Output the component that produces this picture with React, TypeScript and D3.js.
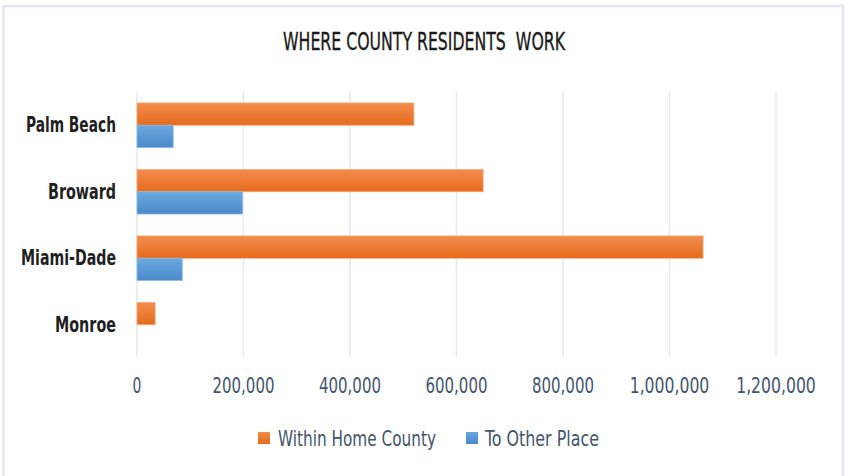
import React from "react";
import * as d3 from "d3";

const categories = ["Palm Beach", "Broward", "Miami-Dade", "Monroe"];
const seriesNames = ["Within Home County", "To Other Place"];
const withinHome = [520000, 650000, 1063000, 34000];
const toOther = [68000, 198000, 85000, 0];
const tickValues = [0, 200000, 400000, 600000, 800000, 1000000, 1200000];
const title = "WHERE COUNTY RESIDENTS  WORK";

const W = 845;
const H = 476;
const FONT = "'DejaVu Sans Condensed', 'Liberation Sans Narrow', 'Open Sans', sans-serif";

export default function App() {
  const x = d3.scaleLinear().domain([0, 1200000]).range([137, 776]);
  const y = d3
    .scaleBand<string>()
    .domain(categories)
    .range([92, 358])
    .paddingInner(0.33)
    .paddingOuter(0.165);
  const inner = d3.scaleBand<string>().domain(seriesNames).range([0, y.bandwidth()]);
  const values = [withinHome, toOther];
  const fills = ["url(#gOrange)", "url(#gBlue)"];
  const strokes = ["#F4A777", "#8DB9E4"];
  const fmt = d3.format(",");

  const catWidths: Record<string, number> = {
    "Palm Beach": 90,
    Broward: 68,
    "Miami-Dade": 95,
    Monroe: 61,
  };

  return (
    <svg
      width={W}
      height={H}
      style={{ position: "absolute", left: 0, top: 0, background: "#fff" }}
    >
      <defs>
        <linearGradient id="gOrange" x1="0" y1="0" x2="0" y2="1">
          <stop offset="0" stopColor="#F28C4C" />
          <stop offset="1" stopColor="#E56B1C" />
        </linearGradient>
        <linearGradient id="gBlue" x1="0" y1="0" x2="0" y2="1">
          <stop offset="0" stopColor="#6CA8DF" />
          <stop offset="1" stopColor="#4A8ACB" />
        </linearGradient>
      </defs>
      {/* chart border */}
      <rect x={3.5} y={6} width={839.5} height={480} fill="#fff" stroke="#E3E6EC" strokeWidth={2.5} />

      {/* title */}
      <text
        x={424}
        y={50}
        textAnchor="middle"
        fontFamily={FONT}
        fontSize={24}
        fill="#1a1a1a"
        stroke="#1a1a1a"
        strokeWidth={0.35}
        textLength={282}
        lengthAdjust="spacingAndGlyphs"
        style={{ whiteSpace: "pre" }}
      >
        {title}
      </text>

      {/* gridlines */}
      {tickValues.map((t) => (
        <line
          key={"g" + t}
          x1={x(t)}
          x2={x(t)}
          y1={92}
          y2={357}
          stroke="#E6E9EF"
          strokeWidth={1.6}
        />
      ))}

      {/* bars */}
      {categories.map((c, i) =>
        seriesNames.map((s, j) => {
          const v = values[j][i];
          if (!v) return null;
          return (
            <rect
              key={c + s}
              x={x(0)}
              y={(y(c) as number) + (inner(s) as number)}
              width={x(v) - x(0)}
              height={inner.bandwidth()}
              fill={fills[j]}
              stroke={strokes[j]}
              strokeWidth={0.8}
            />
          );
        })
      )}

      {/* category labels */}
      {categories.map((c) => (
        <text
          key={"l" + c}
          x={116}
          y={(y(c) as number) + y.bandwidth() / 2 + 7}
          textAnchor="end"
          fontFamily={FONT}
          fontWeight="bold"
          fontSize={21}
          fill="#1f1f1f"
          textLength={catWidths[c]}
          lengthAdjust="spacingAndGlyphs"
        >
          {c}
        </text>
      ))}

      {/* tick labels */}
      {tickValues.map((t) => {
        const s = fmt(t);
        const w = s.length * 8.85;
        return (
          <text
            key={"t" + t}
            x={x(t)}
            y={392.5}
            textAnchor="middle"
            fontFamily={FONT}
            fontSize={20.5}
            fill="#44546A"
            textLength={w}
            lengthAdjust="spacingAndGlyphs"
          >
            {s}
          </text>
        );
      })}

      {/* legend */}
      <rect x={258} y={432} width={12} height={12} fill="url(#gOrange)" />
      <text
        x={278}
        y={446}
        fontFamily={FONT}
        fontSize={20.5}
        fill="#44546A"
        textLength={158}
        lengthAdjust="spacingAndGlyphs"
      >
        {seriesNames[0]}
      </text>
      <rect x={466} y={432} width={12} height={12} fill="url(#gBlue)" />
      <text
        x={485}
        y={446}
        fontFamily={FONT}
        fontSize={20.5}
        fill="#44546A"
        textLength={114}
        lengthAdjust="spacingAndGlyphs"
      >
        {seriesNames[1]}
      </text>
    </svg>
  );
}
